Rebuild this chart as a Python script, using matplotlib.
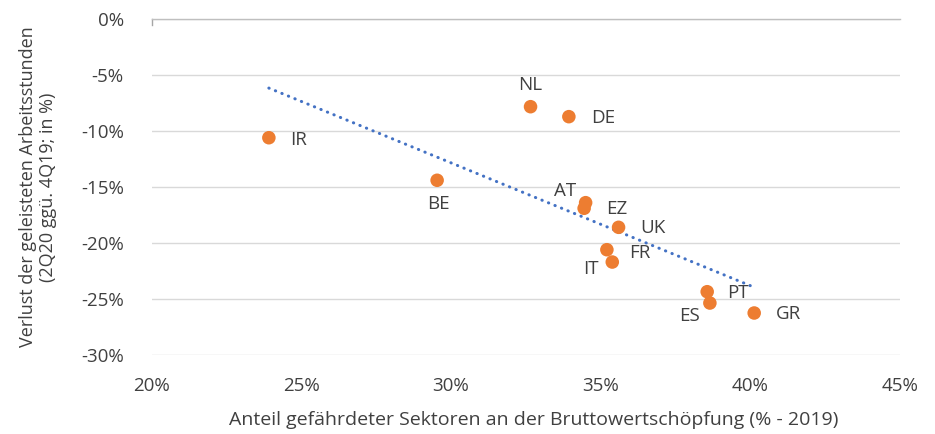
import matplotlib
matplotlib.use("Agg")
import matplotlib.pyplot as plt
import numpy as np

countries = ["IR", "NL", "DE", "BE", "AT", "EZ", "UK", "FR", "IT", "PT", "ES", "GR"]
share_vulnerable = [23.92, 32.66, 33.94, 29.54, 34.50, 34.45, 35.60, 35.21, 35.39, 38.56, 38.65, 40.13]
hours_loss = [-10.6, -7.83, -8.72, -14.4, -16.4, -16.9, -18.6, -20.6, -21.7, -24.35, -25.36, -26.25]
x_ticks = [20, 25, 30, 35, 40, 45]
y_ticks = [0, -5, -10, -15, -20, -25, -30]

# label offsets in pixels (dx, dy)
label_offsets = {
    "IR": (30, -2), "NL": (0, 22), "DE": (34, -1), "BE": (1, -24),
    "AT": (-21, 12), "EZ": (33, -1), "UK": (34, -1), "FR": (33, -3),
    "IT": (-21, -7), "PT": (31, -1), "ES": (-20, -13), "GR": (34, -1),
}

plt.rcParams['font.family'] = ['Open Sans', 'DejaVu Sans']
text_color = '#404040'

fig = plt.figure(figsize=(9.35, 4.34), dpi=100)
ax = fig.add_axes([151.5/935, 1-355/434, (900-151.5)/935, (355-19)/434])

ax.set_xlim(20, 45)
ax.set_ylim(-30, 0)
ax.set_xticks(x_ticks)
ax.set_yticks(y_ticks)
ax.set_xticklabels([f"{v}%" for v in x_ticks])
ax.set_yticklabels([f"{v}%" for v in y_ticks])
ax.grid(axis='y', color='#d9d9d9', linewidth=1.0)
ax.set_axisbelow(True)
for s in ['left', 'right', 'bottom']:
    ax.spines[s].set_visible(False)
ax.spines['top'].set_color('#bfbfbf')
ax.spines['top'].set_linewidth(1.0)
ax.tick_params(axis='both', length=0, labelsize=13.5, colors=text_color)
ax.tick_params(axis='y', pad=20)
ax.tick_params(axis='x', pad=16)
# small tick at origin of top axis
ax.plot([20, 20], [0, -0.5], color='#a6a6a6', lw=1.0, clip_on=False)

# trend line
coef = np.polyfit(share_vulnerable, hours_loss, 1)
xs = np.array([min(share_vulnerable), max(share_vulnerable)])
ax.plot(xs, np.polyval(coef, xs), color='#4472C4', lw=2.2,
        linestyle=(0, (0.1, 2.2)), dash_capstyle='round', zorder=2)

ax.scatter(share_vulnerable, hours_loss, s=95, color='#ED7D31', edgecolors='none', zorder=3)

for c, x, y in zip(countries, share_vulnerable, hours_loss):
    dx, dy = label_offsets[c]
    ax.annotate(c, (x, y), xytext=(dx, dy), textcoords='offset pixels',
                ha='center', va='center', fontsize=13.5, color=text_color)

ax.set_xlabel("Anteil gefährdeter Sektoren an der Bruttowertschöpfung (% - 2019)",
              fontsize=14, color=text_color)
ax.xaxis.set_label_coords(0.5104, -0.192)
ax.xaxis.label.set_va('center')
fig.text(38/935, 1-187/434, "Verlust der geleisteten Arbeitsstunden\n(2Q20 ggü. 4Q19; in %)",
         rotation=90, ha='center', va='center', fontsize=13.0, color=text_color,
         linespacing=1.1)

fig.savefig("out.png", dpi=100)
